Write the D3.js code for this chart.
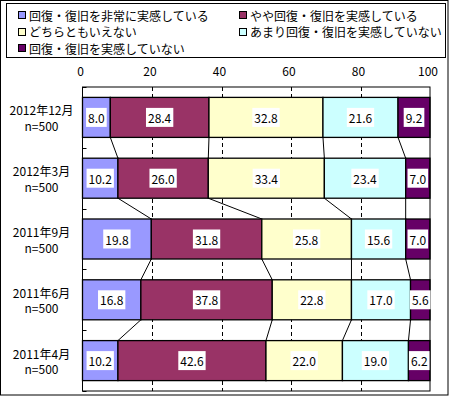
<!DOCTYPE html>
<html>
<head>
<meta charset="utf-8">
<script src="https://cdn.jsdelivr.net/npm/d3@7"></script>
<style>
  body { margin: 0; background: #fff; }
  text { font-family: "Noto Sans CJK JP", "DejaVu Sans", sans-serif; font-size: 12px; fill: #000; }
</style>
</head>
<body>
<svg id="chart" width="450" height="397"></svg>
<script>
// ========== Data ==========
const categories = ['2012年12月', '2012年3月', '2011年9月', '2011年6月', '2011年4月'];
const sampleLabels = ['n=500', 'n=500', 'n=500', 'n=500', 'n=500'];
const seriesNames = [
  '回復・復旧を非常に実感している',
  'やや回復・復旧を実感している',
  'どちらともいえない',
  'あまり回復・復旧を実感していない',
  '回復・復旧を実感していない'
];
const seriesColors = ['#9999FF', '#993366', '#FFFFCC', '#CCFFFF', '#660066'];
const values = [
  [8.0, 28.4, 32.8, 21.6, 9.2],
  [10.2, 26.0, 33.4, 23.4, 7.0],
  [19.8, 31.8, 25.8, 15.6, 7.0],
  [16.8, 37.8, 22.8, 17.0, 5.6],
  [10.2, 42.6, 22.0, 19.0, 6.2]
];
const xTicks = [0, 20, 40, 60, 80, 100];

// ========== Config ==========
const config = {
  plot: { left: 82.5, right: 430, top: 87, bottom: 391 },
  legend: { x: 6.5, y: 3.5, w: 439, h: 54 }
};

const svg = d3.select('#chart');

// ========== Outer border ==========
svg.append('rect')
  .attr('x', 0.5).attr('y', 0.5)
  .attr('width', 447.5).attr('height', 394.5)
  .attr('fill', '#fff').attr('stroke', '#000');

// ========== Scales ==========
const x = d3.scaleLinear()
  .domain([0, 100])
  .range([config.plot.left, config.plot.right]);

const y = d3.scaleBand()
  .domain(categories)
  .range([config.plot.top, config.plot.bottom])
  .paddingInner(0.342)
  .paddingOuter(0.171);

const bw = y.bandwidth();

// stacked data
const rows = categories.map((c, i) => {
  const r = { cat: c };
  seriesNames.forEach((s, j) => r[s] = values[i][j]);
  return r;
});
const stacked = d3.stack().keys(seriesNames)(rows);

// ========== Plot area ==========
svg.append('rect')
  .attr('x', config.plot.left).attr('y', config.plot.top)
  .attr('width', config.plot.right - config.plot.left)
  .attr('height', config.plot.bottom - config.plot.top)
  .attr('fill', '#fff');

// Gridlines
svg.append('g')
  .selectAll('line')
  .data(xTicks.filter(t => t > 0 && t < 100))
  .join('line')
    .attr('x1', d => Math.round(x(d)) + 0.5)
    .attr('x2', d => Math.round(x(d)) + 0.5)
    .attr('y1', config.plot.top)
    .attr('y2', config.plot.bottom)
    .attr('stroke', '#000')
    .attr('stroke-dasharray', '4,3');

// Series lines
const lines = svg.append('g');
stacked.slice(0, 4).forEach(layer => {
  for (let i = 0; i < categories.length - 1; i++) {
    lines.append('line')
      .attr('x1', x(layer[i][1]))
      .attr('y1', y(categories[i]) + bw)
      .attr('x2', x(layer[i + 1][1]))
      .attr('y2', y(categories[i + 1]))
      .attr('stroke', '#000')
      .attr('stroke-width', 1);
  }
});

// Bars
const barGroups = svg.append('g')
  .selectAll('g')
  .data(stacked)
  .join('g')
    .attr('fill', (d, i) => seriesColors[i]);

barGroups.selectAll('rect')
  .data(d => d)
  .join('rect')
    .attr('x', d => x(d[0]))
    .attr('y', d => y(d.data.cat))
    .attr('width', d => x(d[1]) - x(d[0]))
    .attr('height', bw)
    .attr('stroke', '#000')
    .attr('stroke-width', 1.3);

// Plot border
svg.append('rect')
  .attr('x', config.plot.left).attr('y', config.plot.top)
  .attr('width', config.plot.right - config.plot.left)
  .attr('height', config.plot.bottom - config.plot.top)
  .attr('fill', 'none').attr('stroke', '#000');

// Category ticks (inside)
const boundaries = d3.range(categories.length + 1)
  .map(i => config.plot.top + i * y.step() - (i === 0 ? 0 : 0));
svg.append('g')
  .selectAll('line')
  .data(boundaries)
  .join('line')
    .attr('x1', config.plot.left)
    .attr('x2', config.plot.left + 4)
    .attr('y1', d => Math.round(d) + 0.5)
    .attr('y2', d => Math.round(d) + 0.5)
    .attr('stroke', '#000');

// ========== Data labels ==========
const labelLayer = svg.append('g');
stacked.forEach(layer => {
  layer.forEach(d => {
    const cx = (x(d[0]) + x(d[1])) / 2;
    const cy = y(d.data.cat) + bw / 2;
    const g = labelLayer.append('g');
    const bg = g.append('rect').attr('fill', '#fff');
    const t = g.append('text')
      .attr('x', cx)
      .attr('y', cy)
      .attr('text-anchor', 'middle')
      .attr('dominant-baseline', 'central')
      .text((d[1] - d[0]).toFixed(1));
    const w = t.node().getComputedTextLength();
    bg.attr('x', cx - w / 2 - 2)
      .attr('y', cy - 9.5)
      .attr('width', w + 4)
      .attr('height', 19);
  });
});

// ========== Axes ==========
const xAxis = svg.append('g')
  .attr('transform', `translate(-2.5, ${config.plot.top})`)
  .call(d3.axisTop(x).tickValues(xTicks).tickSize(0).tickPadding(11));
xAxis.select('.domain').remove();
xAxis.selectAll('text')
  .style('font-family', '"Noto Sans CJK JP", sans-serif')
  .style('font-size', '12px')
  .attr('fill', '#000');

const catLabels = svg.append('g');
categories.forEach((c, i) => {
  const cy = y(c) + bw / 2;
  catLabels.append('text')
    .attr('x', 41.5).attr('y', cy - 7.5)
    .attr('text-anchor', 'middle')
    .attr('dominant-baseline', 'central')
    .text(c);
  catLabels.append('text')
    .attr('x', 41.5).attr('y', cy + 8)
    .attr('text-anchor', 'middle')
    .attr('dominant-baseline', 'central')
    .text(sampleLabels[i]);
});

// ========== Legend ==========
const legend = svg.append('g');
legend.append('rect')
  .attr('x', config.legend.x).attr('y', config.legend.y)
  .attr('width', config.legend.w).attr('height', config.legend.h)
  .attr('fill', '#fff').attr('stroke', '#000');

const legendPos = [
  [18, 15], [239, 15],
  [18, 31.7], [239, 31.7],
  [18, 48.3]
];
seriesNames.forEach((s, i) => {
  const [lx, ly] = legendPos[i];
  legend.append('rect')
    .attr('x', lx + 0.5).attr('y', Math.round(ly) - 3.5)
    .attr('width', 7).attr('height', 7)
    .attr('fill', seriesColors[i])
    .attr('stroke', '#000');
  legend.append('text')
    .attr('x', lx + 11)
    .attr('y', ly)
    .attr('dominant-baseline', 'central')
    .text(s);
});
</script>
</body>
</html>
